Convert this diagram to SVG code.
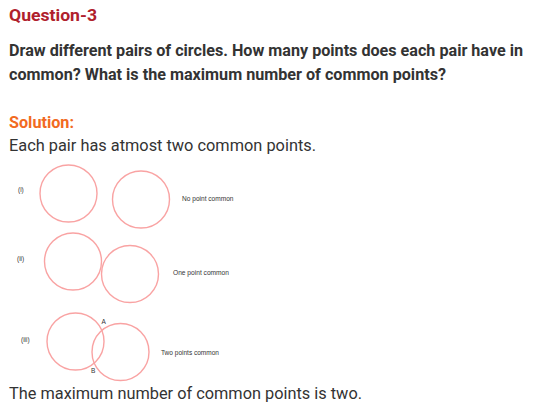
<svg xmlns="http://www.w3.org/2000/svg" width="553" height="410" viewBox="0 0 553 410">
<style>
.t{font-family:Roboto,"Liberation Sans",sans-serif;fill:#333}
.b{font-weight:bold}
.s{font-family:"Liberation Sans",Arial,sans-serif;font-size:6.5px;fill:#333}
.c{fill:none;stroke:#f9a3a3;stroke-width:1.4}
</style>
<rect width="553" height="410" fill="#fff"/>
<text class="t b" x="9" y="21" font-size="17" style="fill:#b0202c" textLength="88" lengthAdjust="spacingAndGlyphs">Question-3</text>
<text class="t b" x="9" y="56" font-size="16" textLength="514" lengthAdjust="spacingAndGlyphs">Draw different pairs of circles. How many points does each pair have in</text>
<text class="t b" x="9" y="80" font-size="16" textLength="437" lengthAdjust="spacingAndGlyphs">common? What is the maximum number of common points?</text>
<text class="t b" x="9" y="128" font-size="16" style="fill:#f26a21" textLength="65" lengthAdjust="spacingAndGlyphs">Solution:</text>
<text class="t" x="9" y="151" font-size="16.5" textLength="307" lengthAdjust="spacingAndGlyphs">Each pair has atmost two common points.</text>
<g id="pair1">
<text class="s" x="18" y="192">(i)</text>
<circle class="c" cx="68.5" cy="193.5" r="28.5"/>
<circle class="c" cx="141" cy="199.5" r="28.5"/>
<text class="s" x="182" y="200.5" textLength="51.5" lengthAdjust="spacingAndGlyphs">No point common</text>
</g>
<g id="pair2">
<text class="s" x="17" y="261">(ii)</text>
<circle class="c" cx="73" cy="261.5" r="28.5"/>
<circle class="c" cx="130" cy="274" r="28.5"/>
<text class="s" x="173" y="274.5" textLength="56" lengthAdjust="spacingAndGlyphs">One point common</text>
</g>
<g id="pair3">
<text class="s" x="21" y="341.5">(iii)</text>
<circle class="c" cx="75.5" cy="341.5" r="28.5"/>
<circle class="c" cx="120.5" cy="352" r="28.5"/>
<text class="s" x="101.5" y="324">A</text>
<text class="s" x="91" y="373">B</text>
<text class="s" x="161" y="354.5" textLength="58" lengthAdjust="spacingAndGlyphs">Two points common</text>
</g>
<text class="t" x="9" y="399" font-size="16.5" textLength="353" lengthAdjust="spacingAndGlyphs">The maximum number of common points is two.</text>
</svg>
